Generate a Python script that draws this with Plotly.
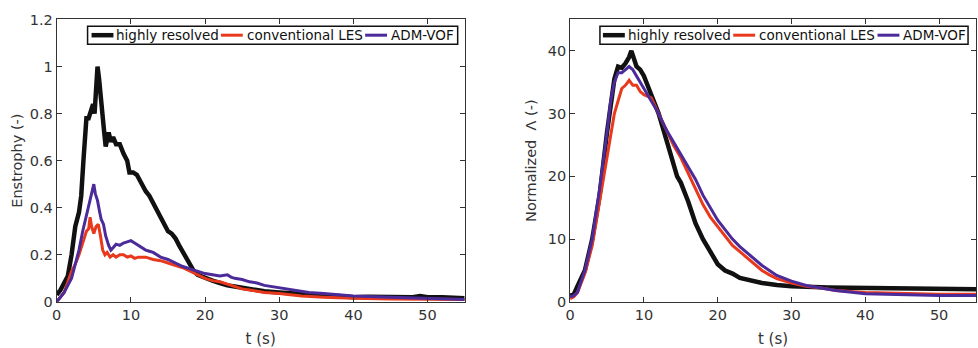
import plotly.graph_objects as go

# ---- Left panel: Enstrophy (-) ----
t_hr_L = [0, 0.5, 1, 1.5, 2, 2.5, 3, 3.3, 3.6, 4, 4.3, 4.6, 4.9, 5.1, 5.3, 5.5, 5.7, 5.9, 6.1, 6.4, 6.6, 6.8, 7.0, 7.3, 7.6, 8, 8.5, 9, 9.5, 9.8, 10.3, 10.8, 11.3, 12, 12.5, 13, 13.5, 14, 14.5, 15, 15.5, 16, 16.5, 17, 17.5, 18, 18.5, 19, 20, 21, 22, 23, 24, 25, 26, 27, 28, 30, 32, 35, 38, 40, 42, 45, 48, 49, 50, 52, 55]
v_hr_L = [0.03, 0.05, 0.08, 0.11, 0.2, 0.32, 0.38, 0.45, 0.6, 0.78, 0.78, 0.82, 0.84, 0.8, 0.93, 1.0, 0.95, 0.87, 0.8, 0.72, 0.66, 0.7, 0.72, 0.68, 0.7, 0.67, 0.67, 0.63, 0.6, 0.55, 0.55, 0.54, 0.51, 0.47, 0.45, 0.42, 0.4, 0.37, 0.33, 0.3, 0.29, 0.27, 0.24, 0.21, 0.18, 0.15, 0.13, 0.115, 0.1, 0.09, 0.08, 0.07, 0.065, 0.06, 0.055, 0.05, 0.045, 0.04, 0.035, 0.03, 0.025, 0.02, 0.022, 0.02, 0.02, 0.025, 0.02, 0.02, 0.015]

t_les_L = [0, 1, 2, 2.5, 3, 3.5, 4, 4.3, 4.5, 4.7, 5, 5.3, 5.6, 5.9, 6.2, 6.5, 6.8, 7.2, 7.6, 8, 8.5, 9, 9.5, 10, 10.5, 11, 12, 13, 14, 15, 16, 17, 18, 19, 20, 21, 22, 23, 24, 25, 26, 27, 28, 30, 33, 36, 40, 45, 50, 55]
v_les_L = [0.0, 0.04, 0.13, 0.16, 0.2, 0.25, 0.3, 0.31, 0.36, 0.32, 0.29, 0.32, 0.33, 0.28, 0.22, 0.2, 0.21, 0.19, 0.2, 0.19, 0.2, 0.2, 0.19, 0.195, 0.185, 0.19, 0.19, 0.18, 0.175, 0.165, 0.155, 0.145, 0.13, 0.115, 0.1, 0.09, 0.085, 0.075, 0.065, 0.055, 0.05, 0.045, 0.04, 0.035, 0.025, 0.02, 0.015, 0.012, 0.01, 0.01]

t_adm_L = [0, 1, 2, 3, 3.5, 4, 4.5, 4.8, 5, 5.2, 5.5, 5.8, 6, 6.3, 6.6, 7, 7.3, 7.6, 8, 8.5, 9, 9.5, 10, 10.5, 11, 11.5, 12, 12.5, 13, 14, 15, 16, 17, 18, 19, 20, 21, 22, 23, 23.5, 24, 25, 26, 27, 28, 29, 30, 32, 34, 36, 38, 40, 45, 50, 55]
v_adm_L = [0.0, 0.04, 0.1, 0.22, 0.3, 0.37, 0.44, 0.48, 0.5, 0.46, 0.43, 0.38, 0.35, 0.33, 0.28, 0.24, 0.22, 0.23, 0.245, 0.24, 0.25, 0.255, 0.26, 0.25, 0.24, 0.23, 0.22, 0.215, 0.21, 0.19, 0.18, 0.165, 0.15, 0.14, 0.13, 0.12, 0.115, 0.11, 0.115, 0.105, 0.1, 0.095, 0.085, 0.08, 0.07, 0.065, 0.06, 0.05, 0.04, 0.035, 0.03, 0.025, 0.02, 0.015, 0.01]

# ---- Right panel: Normalized Lambda (-) ----
t_hr_R = [0, 0.5, 1, 2, 3, 4, 5, 5.5, 6, 6.5, 7, 7.5, 8, 8.3, 8.6, 9, 9.5, 10, 11, 12, 13, 14, 14.5, 15, 16, 17, 18, 19, 20, 21, 22, 23, 24, 25, 26, 28, 30, 35, 40, 45, 50, 55]
v_hr_R = [1, 1.2, 2.5, 5, 10, 17, 27, 32, 35.5, 37.5, 37.3, 38, 39, 40, 39, 37.5, 37, 36, 33, 30, 26, 22, 20, 19, 16, 12.5, 10, 8, 6, 5, 4.5, 3.8, 3.5, 3.2, 3, 2.7, 2.5, 2.3, 2.2, 2.1, 2.0, 2.0]

t_les_R = [0, 0.5, 1, 2, 3, 4, 5, 6, 6.5, 7, 7.5, 8, 8.5, 9, 9.5, 10, 11, 12, 13, 14, 15, 16, 17, 18, 19, 20, 21, 22, 23, 24, 25, 26, 27, 28, 30, 32, 34, 36, 40, 45, 50, 55]
v_les_R = [0.5, 0.8, 1.5, 4.5, 9, 16, 23, 30, 32, 34, 34.5, 35.3, 34.5, 34.5, 33.5, 33, 32.5, 30, 27.5, 25, 23, 20.5, 18, 15.5, 13.5, 12, 10.5, 9, 8, 7, 6, 5, 4.3, 3.7, 3, 2.5, 2.2, 1.8, 1.5, 1.3, 1.2, 1.2]

t_adm_R = [0, 0.5, 1, 2, 3, 4, 5, 5.5, 6, 6.5, 7, 7.5, 8, 8.5, 9, 10, 11, 12, 13, 14, 15, 16, 17, 18, 19, 20, 21, 22, 23, 24, 25, 26, 27, 28, 30, 32, 34, 36, 40, 45, 50, 55]
v_adm_R = [0.8, 1.0, 1.5, 5, 10, 18, 27, 32, 35, 36.5, 36.5, 37, 37.5, 37, 36, 34, 32, 30, 27.5, 25.5, 23.5, 21.5, 19.5, 17, 15, 13, 11.5, 10, 8.8, 7.8, 6.8, 5.8, 5, 4.2, 3.3, 2.6, 2.2, 1.8, 1.3, 1.1, 1.0, 1.0]

names = ["highly resolved", "conventional LES", "ADM-VOF"]
colors = ["#111111", "#e8391d", "#4b2a9a"]
widths = [4.5, 3, 3]

fig = go.Figure()
left = [(t_hr_L, v_hr_L), (t_les_L, v_les_L), (t_adm_L, v_adm_L)]
right = [(t_hr_R, v_hr_R), (t_les_R, v_les_R), (t_adm_R, v_adm_R)]
for i in range(3):
    fig.add_trace(go.Scatter(x=left[i][0], y=left[i][1], mode="lines", name=names[i],
                             line=dict(color=colors[i], width=widths[i]),
                             xaxis="x", yaxis="y", showlegend=False))
for i in range(3):
    fig.add_trace(go.Scatter(x=right[i][0], y=right[i][1], mode="lines", name=names[i],
                             line=dict(color=colors[i], width=widths[i]),
                             xaxis="x2", yaxis="y2", showlegend=False))

W, H = 978, 348
axfont = dict(family="DejaVu Sans", size=14.5, color="#333333")
titlefont = dict(family="DejaVu Sans", size=14.5, color="#333333")
common_x = dict(range=[0, 55], tickvals=[0, 10, 20, 30, 40, 50], ticks="inside", ticklen=5,
                showline=True, linecolor="#333333", linewidth=1, mirror="ticks",
                showgrid=False, zeroline=False, tickfont=axfont, tickcolor="#333333",
                title=dict(text="t (s)", font=dict(family="DejaVu Sans", size=15, color="#333333"),
                           standoff=12))
common_y = dict(ticks="inside", ticklen=5, showline=True, linecolor="#333333", linewidth=1,
                mirror="ticks", showgrid=False, zeroline=False, tickfont=axfont,
                tickcolor="#333333")

# ---- compact legends (box + line samples + labels), one per panel ----
shapes, annots = [], []
def add_legend(box_left, box_right, line_starts, text_starts):
    top, bottom, mid = 19, 38, 28.5
    shapes.append(dict(type="rect", xref="paper", yref="paper",
                       x0=box_left / W, x1=box_right / W, y0=1 - bottom / H, y1=1 - top / H,
                       line=dict(color="#111111", width=1.5), fillcolor="white", layer="above"))
    for i in range(3):
        shapes.append(dict(type="line", xref="paper", yref="paper",
                           x0=line_starts[i] / W, x1=(line_starts[i] + 22) / W,
                           y0=1 - mid / H, y1=1 - mid / H,
                           line=dict(color=colors[i], width=widths[i]), layer="above"))
        annots.append(dict(text=names[i], xref="paper", yref="paper", x=text_starts[i] / W,
                           y=1 - mid / H, xanchor="left", yanchor="middle", showarrow=False,
                           font=dict(family="DejaVu Sans", size=13.5, color="#111111")))

add_legend(83, 455, [87, 217, 362], [110, 241, 386])
add_legend(598, 968, [601, 732, 877], [624, 756, 901])

fig.update_layout(
    width=W, height=H, margin=dict(l=0, r=0, t=0, b=0),
    paper_bgcolor="white", plot_bgcolor="white",
    font=dict(family="DejaVu Sans", color="#333333"),
    xaxis=dict(domain=[52 / W, 462 / W], anchor="y", **common_x),
    yaxis=dict(domain=[(H - 308) / H, (H - 12) / H], anchor="x", range=[0, 1.2],
               tickvals=[0, 0.2, 0.4, 0.6, 0.8, 1, 1.2],
               ticktext=["0", "0.2", "0.4", "0.6", "0.8", "1", "1.2"],
               title=dict(text="Enstrophy (-)", font=titlefont, standoff=3), **common_y),
    xaxis2=dict(domain=[568 / W, 976 / W], anchor="y2", **common_x),
    yaxis2=dict(domain=[(H - 308) / H, (H - 12) / H], anchor="x2", range=[0, 45],
                tickvals=[0, 10, 20, 30, 40],
                title=dict(text="Normalized  Λ (-)", font=titlefont, standoff=7), **common_y),
    shapes=shapes, annotations=annots,
    showlegend=False,
)

fig.write_html("out.html")
